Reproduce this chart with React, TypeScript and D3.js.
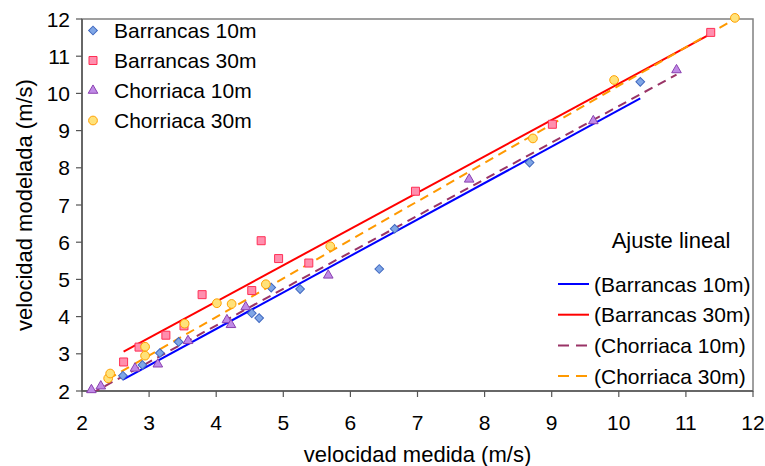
import React from 'react';
import * as d3 from 'd3';

// scatter values (velocidad medida, velocidad modelada)
const barrancas10X = [2.61, 2.90, 3.16, 3.44, 4.53, 4.64, 4.82, 5.25, 6.43, 6.66, 8.67, 10.32];
const barrancas10Y = [2.41, 2.70, 3.02, 3.32, 4.09, 3.96, 4.78, 4.74, 5.28, 6.36, 8.14, 10.31];

const barrancas30X = [2.62, 2.85, 3.25, 3.52, 3.79, 4.53, 4.67, 4.93, 5.38, 6.97, 9.01, 11.37];
const barrancas30Y = [2.78, 3.18, 3.50, 3.75, 4.59, 4.70, 6.04, 5.56, 5.44, 7.37, 9.17, 11.64];

const chorriaca10X = [2.14, 2.28, 2.79, 3.13, 3.58, 4.16, 4.22, 4.44, 5.67, 7.77, 9.62, 10.86];
const chorriaca10Y = [2.03, 2.13, 2.61, 2.72, 3.35, 3.91, 3.78, 4.26, 5.11, 7.69, 9.26, 10.63];

const chorriaca30X = [2.39, 2.42, 2.94, 2.94, 3.53, 4.01, 4.23, 4.74, 5.70, 8.72, 9.93, 11.73];
const chorriaca30Y = [2.34, 2.47, 3.19, 2.95, 3.81, 4.36, 4.34, 4.87, 5.89, 8.79, 10.36, 12.03];

// linear fits as drawn: slope, intercept, x range
const fitSlopes = [0.98, 0.976, 0.983, 1.036];
const fitIntercepts = [-0.25, 0.50, -0.17, -0.155];
const fitStart = [2.61, 2.62, 2.14, 2.39];
const fitEnd = [10.32, 11.37, 10.86, 11.73];

const seriesNames = ['Barrancas 10m', 'Barrancas 30m', 'Chorriaca 10m', 'Chorriaca 30m'];
const fitNames = ['(Barrancas 10m)', '(Barrancas 30m)', '(Chorriaca 10m)', '(Chorriaca 30m)'];
const xTicks = [2, 3, 4, 5, 6, 7, 8, 9, 10, 11, 12];
const yTicks = [2, 3, 4, 5, 6, 7, 8, 9, 10, 11, 12];

const W = 765;
const H = 466;
const FONT = '"Liberation Sans", Arial, sans-serif';

const markerFill = ['#7fa6e6', '#ff8fae', '#c08ae6', '#ffe27a'];
const markerStroke = ['#4068c0', '#ff2f55', '#8a40b0', '#ffa000'];
const lineColors = ['#0000ff', '#ff0000', '#993366', '#ff9900'];
const lineDash = [null, null, '9 6', '9 6'];

const markerPath = (i: number) => {
  if (i === 0) return d3.symbol(d3.symbolSquare, 38)();
  if (i === 1) return d3.symbol(d3.symbolSquare, 64)();
  if (i === 2) return d3.symbol(d3.symbolTriangle, 40)();
  return d3.symbol(d3.symbolCircle, 60)();
};

const Marker: React.FC<{ i: number; x: number; y: number }> = ({ i, x, y }) => (
  <path
    d={markerPath(i) || ''}
    transform={`translate(${x},${y})${i === 0 ? ' rotate(45)' : ''}`}
    fill={markerFill[i]}
    stroke={markerStroke[i]}
    strokeWidth={1}
  />
);

const App: React.FC = () => {
  const margin = { top: 19, right: 12, bottom: 75, left: 82 };
  const x = d3.scaleLinear().domain([2, 12]).range([margin.left, W - margin.right]);
  const y = d3.scaleLinear().domain([2, 12]).range([H - margin.bottom, margin.top]);

  const series = [
    [barrancas10X, barrancas10Y],
    [barrancas30X, barrancas30Y],
    [chorriaca10X, chorriaca10Y],
    [chorriaca30X, chorriaca30Y],
  ];

  const line = d3.line<number>()
    .x(d => x(d[0]))
    .y(d => y(d[1]));

  const x0 = x(2), x1 = x(12), y0 = y(2), y1 = y(12);

  return (
    <div style={{ position: 'absolute', left: 0, top: 0 }}>
      <svg width={W} height={H} style={{ display: 'block', background: '#fff' }} fontFamily={FONT}>
        <defs>
          <clipPath id="plot">
            <rect x={x0} y={y1} width={x1 - x0} height={y0 - y1} />
          </clipPath>
        </defs>

        {/* plot frame */}
        <rect x={x0} y={y1} width={x1 - x0} height={y0 - y1} fill="#fff" stroke="#808080" strokeWidth={1.5} />

        {/* x axis */}
        <line x1={x0} x2={x1} y1={y0} y2={y0} stroke="#555" strokeWidth={1.5} />
        {xTicks.map(t => (
          <g key={`xt${t}`}>
            <line x1={x(t)} x2={x(t)} y1={y0} y2={y0 + 6} stroke="#555" strokeWidth={1.2} />
            <text x={x(t)} y={430} textAnchor="middle" fontSize={21} fill="#000">{t}</text>
          </g>
        ))}

        {/* y axis */}
        <line x1={x0} x2={x0} y1={y0} y2={y1} stroke="#555" strokeWidth={1.5} />
        {yTicks.map(t => (
          <g key={`yt${t}`}>
            <line x1={x0 - 6} x2={x0} y1={y(t)} y2={y(t)} stroke="#555" strokeWidth={1.2} />
            <text x={70} y={y(t) + 7.5} textAnchor="end" fontSize={21} fill="#000">{t}</text>
          </g>
        ))}

        <text x={(x0 + x1) / 2} y={462} textAnchor="middle" fontSize={22} fill="#000">velocidad medida (m/s)</text>
        <text transform={`translate(32,${(y0 + y1) / 2}) rotate(-90)`} textAnchor="middle" fontSize={22} fill="#000">
          velocidad modelada (m/s)
        </text>

        {/* trend lines */}
        <g clipPath="url(#plot)">
          {fitSlopes.map((m, i) => {
            const pts: [number, number][] = [
              [fitStart[i], m * fitStart[i] + fitIntercepts[i]],
              [fitEnd[i], m * fitEnd[i] + fitIntercepts[i]],
            ];
            return (
              <path
                key={`fit${i}`}
                d={line(pts as any) || ''}
                fill="none"
                stroke={lineColors[i]}
                strokeWidth={2}
                strokeDasharray={lineDash[i] || undefined}
              />
            );
          })}
        </g>

        {/* markers */}
        {series.map(([xs, ys], i) => (
          <g key={`s${i}`}>
            {xs.map((v, j) => (
              <Marker key={j} i={i} x={x(v)} y={y(ys[j])} />
            ))}
          </g>
        ))}

        {/* legend: series */}
        {seriesNames.map((name, i) => (
          <g key={`lg${i}`}>
            <Marker i={i} x={93} y={30.5 + i * 30} />
            <text x={114} y={30.5 + i * 30 + 7.5} fontSize={21} fill="#000">{name}</text>
          </g>
        ))}

        {/* legend: linear fit */}
        <text x={671} y={248} textAnchor="middle" fontSize={22} fill="#000">Ajuste lineal</text>
        {fitNames.map((name, i) => {
          const yy = 284 + i * 30.7;
          return (
            <g key={`lf${i}`}>
              <line
                x1={558} x2={589} y1={yy} y2={yy}
                stroke={lineColors[i]}
                strokeWidth={2}
                strokeDasharray={lineDash[i] ? '11 7' : undefined}
              />
              <text x={594} y={yy + 7.5} fontSize={21} fill="#000">{name}</text>
            </g>
          );
        })}
      </svg>
    </div>
  );
};

export default App;
